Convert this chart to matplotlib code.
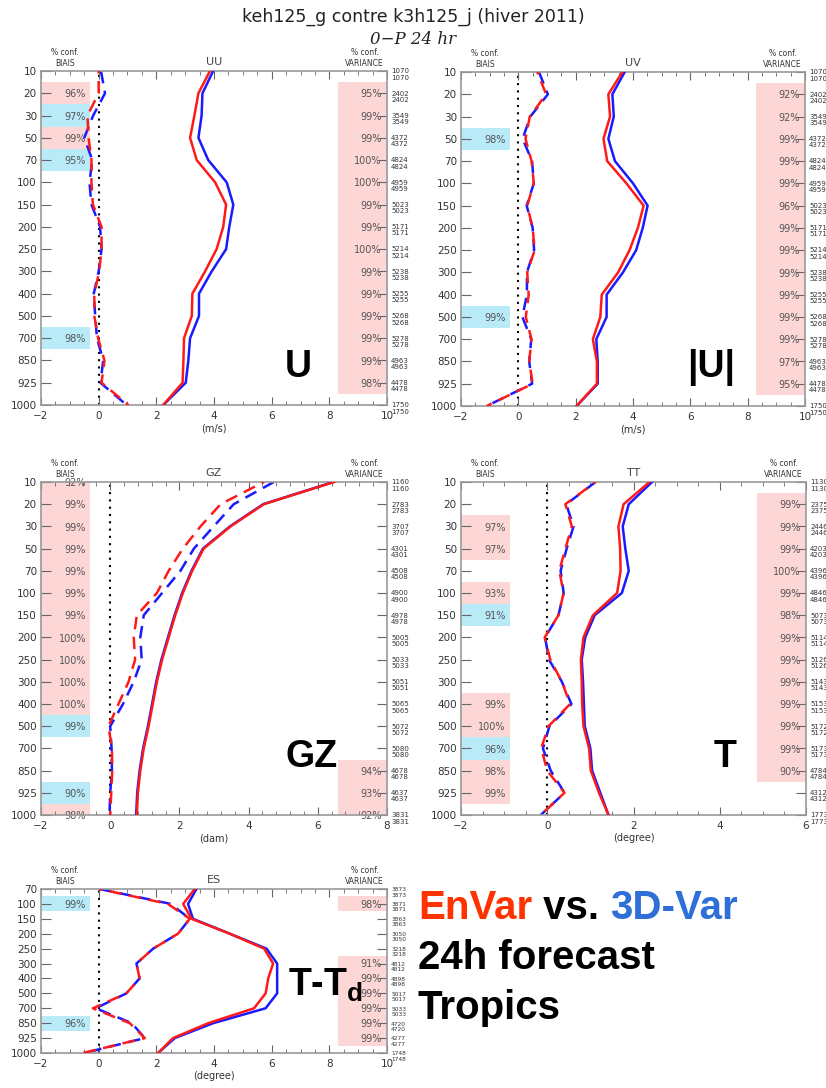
import matplotlib
matplotlib.use("Agg")
import matplotlib.pyplot as plt
import matplotlib.transforms as mtransforms
from matplotlib.patches import Rectangle
from matplotlib.ticker import MultipleLocator

# niveaux de pression
niveaux = [10, 20, 30, 50, 70, 100, 150, 200, 250, 300, 400, 500, 700, 850, 925, 1000]
niveaux_es = [70, 100, 150, 200, 250, 300, 400, 500, 700, 850, 925, 1000]

# UU
uu_std_r = [3.86, 3.46, 3.32, 3.17, 3.40, 4.04, 4.42, 4.32, 4.09, 3.69, 3.25, 3.23, 2.96, 2.94, 2.91, 2.24]
uu_std_b = [3.97, 3.60, 3.57, 3.46, 3.80, 4.44, 4.67, 4.53, 4.42, 3.92, 3.48, 3.48, 3.17, 3.11, 3.02, 2.24]
uu_bias_r = [0.00, 0.00, -0.39, -0.35, -0.25, -0.25, -0.20, 0.10, 0.10, 0.02, -0.15, -0.15, -0.02, 0.20, 0.10, 1.03]
uu_bias_b = [0.08, 0.22, -0.19, -0.50, -0.22, -0.32, -0.25, 0.05, 0.10, 0.00, -0.17, -0.12, -0.06, 0.16, 0.06, 0.97]
uu_nobs = [1070, 2402, 3549, 4372, 4824, 4959, 5023, 5171, 5214, 5238, 5255, 5268, 5278, 4963, 4478, 1750]
uu_bconf_niv = [20, 30, 50, 70, 700]
uu_bconf_val = [96, 97, 99, 95, 98]
uu_bconf_col = ["r", "b", "r", "b", "b"]
uu_vconf_niv = niveaux[1:15]
uu_vconf_val = [95, 99, 99, 100, 100, 99, 99, 100, 99, 99, 99, 99, 99, 98]
uu_vconf_col = ["r"] * 14

# UV
uv_std_r = [3.63, 3.14, 3.20, 2.97, 3.10, 3.77, 4.37, 4.17, 3.88, 3.48, 2.91, 2.86, 2.60, 2.74, 2.74, 2.03]
uv_std_b = [3.71, 3.28, 3.33, 3.14, 3.37, 4.00, 4.51, 4.34, 4.11, 3.65, 3.08, 3.08, 2.72, 2.77, 2.77, 2.03]
uv_bias_r = [0.66, 0.97, 0.40, 0.25, 0.46, 0.54, 0.31, 0.50, 0.57, 0.31, 0.36, 0.26, 0.46, 0.38, 0.50, -1.10]
uv_bias_b = [0.72, 1.03, 0.42, 0.15, 0.48, 0.54, 0.29, 0.50, 0.55, 0.30, 0.30, 0.14, 0.45, 0.38, 0.48, -1.10]
uv_nobs = uu_nobs
uv_bconf_niv = [50, 500]
uv_bconf_val = [98, 99]
uv_bconf_col = ["b", "b"]
uv_vconf_niv = niveaux[1:15]
uv_vconf_val = [92, 92, 99, 99, 99, 96, 99, 99, 99, 99, 99, 99, 97, 95]
uv_vconf_col = ["r"] * 14

# GZ
gz_std_r = [6.47, 4.44, 3.48, 2.70, 2.37, 2.10, 1.88, 1.69, 1.50, 1.35, 1.23, 1.11, 0.97, 0.87, 0.80, 0.77]
gz_std_b = [6.45, 4.42, 3.46, 2.68, 2.35, 2.08, 1.86, 1.67, 1.48, 1.33, 1.21, 1.09, 0.95, 0.85, 0.78, 0.75]
gz_bias_r = [4.44, 3.19, 2.61, 2.10, 1.69, 1.35, 0.77, 0.68, 0.72, 0.53, 0.24, -0.05, 0.05, 0.06, 0.03, 0.00]
gz_bias_b = [4.73, 3.57, 2.99, 2.42, 2.03, 1.50, 0.97, 0.87, 0.91, 0.68, 0.37, 0.00, 0.04, 0.05, 0.00, -0.02]
gz_nobs = [1160, 2783, 3707, 4301, 4508, 4900, 4978, 5005, 5033, 5051, 5065, 5072, 5080, 4678, 4637, 3831]
gz_bconf_niv = [10, 20, 30, 50, 70, 100, 150, 200, 250, 300, 400, 500, 925, 1000]
gz_bconf_val = [92, 99, 99, 99, 99, 99, 99, 100, 100, 100, 100, 99, 90, 98]
gz_bconf_col = ["r"] * 11 + ["b", "b", "r"]
gz_vconf_niv = [850, 925, 1000]
gz_vconf_val = [94, 93, 92]
gz_vconf_col = ["r", "r", "r"]

# TT
tt_std_r = [2.37, 1.77, 1.65, 1.69, 1.70, 1.62, 1.06, 0.84, 0.78, 0.80, 0.81, 0.84, 0.97, 1.01, 1.20, 1.42]
tt_std_b = [2.43, 1.89, 1.75, 1.81, 1.89, 1.73, 1.10, 0.88, 0.80, 0.83, 0.85, 0.87, 1.00, 1.04, 1.23, 1.42]
tt_bias_r = [1.12, 0.42, 0.57, 0.42, 0.28, 0.38, 0.26, -0.06, 0.07, 0.34, 0.53, 0.03, -0.14, 0.00, 0.40, -0.15]
tt_bias_b = [1.12, 0.44, 0.61, 0.45, 0.31, 0.38, 0.26, -0.05, 0.04, 0.34, 0.56, 0.05, -0.10, 0.08, 0.40, -0.15]
tt_nobs = [1130, 2375, 2446, 4203, 4396, 4846, 5073, 5114, 5126, 5143, 5153, 5172, 5173, 4784, 4312, 1773]
tt_bconf_niv = [30, 50, 100, 150, 400, 500, 700, 850, 925]
tt_bconf_val = [97, 97, 93, 91, 99, 100, 96, 98, 99]
tt_bconf_col = ["r", "r", "r", "b", "r", "r", "b", "r", "r"]
tt_vconf_niv = niveaux[1:14]
tt_vconf_val = [99, 99, 99, 100, 99, 98, 99, 99, 99, 99, 99, 99, 90]
tt_vconf_col = ["r"] * 13

# ES
es_std_r = [3.33, 2.93, 3.22, 4.55, 5.74, 6.05, 5.88, 5.79, 5.39, 3.80, 2.58, 2.06]
es_std_b = [3.39, 3.10, 3.27, 4.55, 5.82, 6.19, 6.19, 6.19, 5.79, 3.97, 2.64, 2.06]
es_bias_r = [0.03, 2.40, 3.16, 2.75, 1.89, 1.31, 1.42, 0.96, -0.20, 1.08, 1.60, -0.55]
es_bias_b = [0.03, 2.50, 3.16, 2.75, 1.89, 1.31, 1.42, 0.96, -0.10, 1.15, 1.60, -0.50]
es_nobs = [3873, 3871, 3863, 3050, 3218, 4812, 4898, 5017, 5033, 4720, 4277, 1748]
es_bconf_niv = [100, 850]
es_bconf_val = [99, 96]
es_bconf_col = ["b", "b"]
es_vconf_niv = [100, 300, 400, 500, 700, 850, 925]
es_vconf_val = [98, 91, 99, 99, 99, 99, 99]
es_vconf_col = ["r"] * 7

ROUGE = "#ff1a1a"
BLEU = "#1a1aff"
ROSE = "#fdd6d6"
CYAN = "#b8eaf8"
GRIS = "#555555"

W, H = 826, 1088
fig = plt.figure(figsize=(W / 100, H / 100), dpi=100)


def panneau(px, niv, std_r, std_b, bias_r, bias_b, nobs, bconf, vconf,
            titre, unite, xlim, mineur, nobs_fs=5.0):
    x0, y0, x1, y1 = px
    ax = fig.add_axes([x0 / W, 1 - y1 / H, (x1 - x0) / W, (y1 - y0) / H])
    n = len(niv)
    idx = list(range(n))
    ax.set_xlim(*xlim)
    ax.set_ylim(n - 1, 0)

    tr = mtransforms.blended_transform_factory(ax.transAxes, ax.transData)
    for (nivs, vals, cols), xa, xt in [(bconf, 0.0, 0.13), (vconf, 0.857, 0.985)]:
        for p, v, c in zip(nivs, vals, cols):
            i = niv.index(p)
            ax.add_patch(Rectangle((xa, i - 0.5), 0.143, 1.0, transform=tr,
                                   facecolor=ROSE if c == "r" else CYAN,
                                   linewidth=0, zorder=0))
            ax.text(xt, i + 0.05, f"{v}%", transform=tr, ha="right", va="center",
                    fontsize=7, color=GRIS, zorder=1)

    ax.axvline(0, color="black", linestyle=(0, (1, 2.5)), linewidth=1.5, zorder=1)
    ax.plot(bias_b, idx, color=BLEU, linestyle=(0, (5, 3)), linewidth=1.8, zorder=2)
    ax.plot(bias_r, idx, color=ROUGE, linestyle=(4, (5, 3)), linewidth=1.8, zorder=3)
    ax.plot(std_b, idx, color=BLEU, linewidth=1.8, zorder=4)
    ax.plot(std_r, idx, color=ROUGE, linewidth=1.8, zorder=5)

    ax.set_yticks(idx)
    ax.set_yticklabels([str(p) for p in niv])
    ax.xaxis.set_major_locator(MultipleLocator(2))
    ax.xaxis.set_minor_locator(MultipleLocator(mineur))
    ax.tick_params(axis="y", direction="in", left=True, right=True, length=7,
                   labelsize=7.5, labelcolor="#333333", color="#666666", pad=3)
    ax.tick_params(axis="x", which="major", direction="in", top=True, bottom=True,
                   length=6, labelsize=7.5, labelcolor="#333333", color="#666666", pad=4)
    ax.tick_params(axis="x", which="minor", direction="in", top=True, bottom=True,
                   length=3, color="#666666")
    for s in ax.spines.values():
        s.set_color("#999999")
        s.set_linewidth(1.2)

    ax.set_xlabel(unite, fontsize=7, color="#333333", labelpad=2)
    ax.annotate(titre, (0.5, 1.0), xycoords="axes fraction", xytext=(0, 3),
                textcoords="offset points", ha="center", va="bottom",
                fontsize=8, color="#444444")
    ax.annotate("% conf.\nBIAIS", (0.07, 1.0), xycoords="axes fraction",
                xytext=(0, 2), textcoords="offset points", ha="center",
                va="bottom", fontsize=5.5, color="#333333", linespacing=1.3)
    ax.annotate("% conf.\nVARIANCE", (0.935, 1.0), xycoords="axes fraction",
                xytext=(0, 2), textcoords="offset points", ha="center",
                va="bottom", fontsize=5.5, color="#333333", linespacing=1.3)
    for i, c in enumerate(nobs):
        ax.annotate(f"{c}\n{c}", (1.0, i), xycoords=tr, xytext=(3, -2.5),
                    textcoords="offset points", ha="left", va="center",
                    fontsize=nobs_fs, color="#333333", linespacing=1.05,
                    annotation_clip=False)
    return ax


panneau((41, 71, 387, 405), niveaux, uu_std_r, uu_std_b, uu_bias_r, uu_bias_b, uu_nobs,
        (uu_bconf_niv, uu_bconf_val, uu_bconf_col), (uu_vconf_niv, uu_vconf_val, uu_vconf_col),
        "UU", "(m/s)", (-2, 10), 0.5)
panneau((461, 72, 805, 406), niveaux, uv_std_r, uv_std_b, uv_bias_r, uv_bias_b, uv_nobs,
        (uv_bconf_niv, uv_bconf_val, uv_bconf_col), (uv_vconf_niv, uv_vconf_val, uv_vconf_col),
        "UV", "(m/s)", (-2, 10), 0.5)
panneau((41, 482, 387, 815), niveaux, gz_std_r, gz_std_b, gz_bias_r, gz_bias_b, gz_nobs,
        (gz_bconf_niv, gz_bconf_val, gz_bconf_col), (gz_vconf_niv, gz_vconf_val, gz_vconf_col),
        "GZ", "(dam)", (-2, 8), 0.4)
panneau((461, 482, 806, 815), niveaux, tt_std_r, tt_std_b, tt_bias_r, tt_bias_b, tt_nobs,
        (tt_bconf_niv, tt_bconf_val, tt_bconf_col), (tt_vconf_niv, tt_vconf_val, tt_vconf_col),
        "TT", "(degree)", (-2, 6), 0.5)
panneau((41, 889, 387, 1053), niveaux_es, es_std_r, es_std_b, es_bias_r, es_bias_b, es_nobs,
        (es_bconf_niv, es_bconf_val, es_bconf_col), (es_vconf_niv, es_vconf_val, es_vconf_col),
        "ES", "(degree)", (-2, 10), 0.5, nobs_fs=4.2)

# titres
fig.text(413 / W, 1 - 17 / H, "keh125_g contre k3h125_j (hiver 2011)", ha="center",
         va="center", fontsize=12.5, color="#222222")
fig.text(413 / W, 1 - 40 / H, "0\u2212P 24 hr", ha="center", va="center",
         fontsize=12, style="italic", family="DejaVu Serif", color="#222222")

# grandes etiquettes
gros = dict(fontsize=27, fontweight="bold", family=["Liberation Sans", "DejaVu Sans"],
            ha="center", va="center", color="black")
fig.text(298 / W, 1 - 367 / H, "U", **gros)
fig.text(711 / W, 1 - 367 / H, "|U|", **gros)
fig.text(312 / W, 1 - 757 / H, "GZ", **gros)
fig.text(725 / W, 1 - 757 / H, "T", **gros)
fig.text(325 / W, 1 - 985 / H, "T-T$_\\mathregular{d}$", **gros)

leg = dict(fontsize=29, fontweight="bold", family=["Liberation Sans", "DejaVu Sans"],
           ha="left", va="center")
t1 = fig.text(418 / W, 1 - 908 / H, "EnVar", color="#ff3300", **leg)
fig.canvas.draw()
r = fig.canvas.get_renderer()
bb = t1.get_window_extent(r)
t2 = fig.text(bb.x1 / W, 1 - 908 / H, " vs. ", color="black", **leg)
bb2 = t2.get_window_extent(r)
fig.text(bb2.x1 / W, 1 - 908 / H, "3D-Var", color="#2f6fd8", **leg)
fig.text(418 / W, 1 - 958 / H, "24h forecast", color="black", **leg)
fig.text(418 / W, 1 - 1008 / H, "Tropics", color="black", **leg)

fig.savefig("out.png", dpi=100)
